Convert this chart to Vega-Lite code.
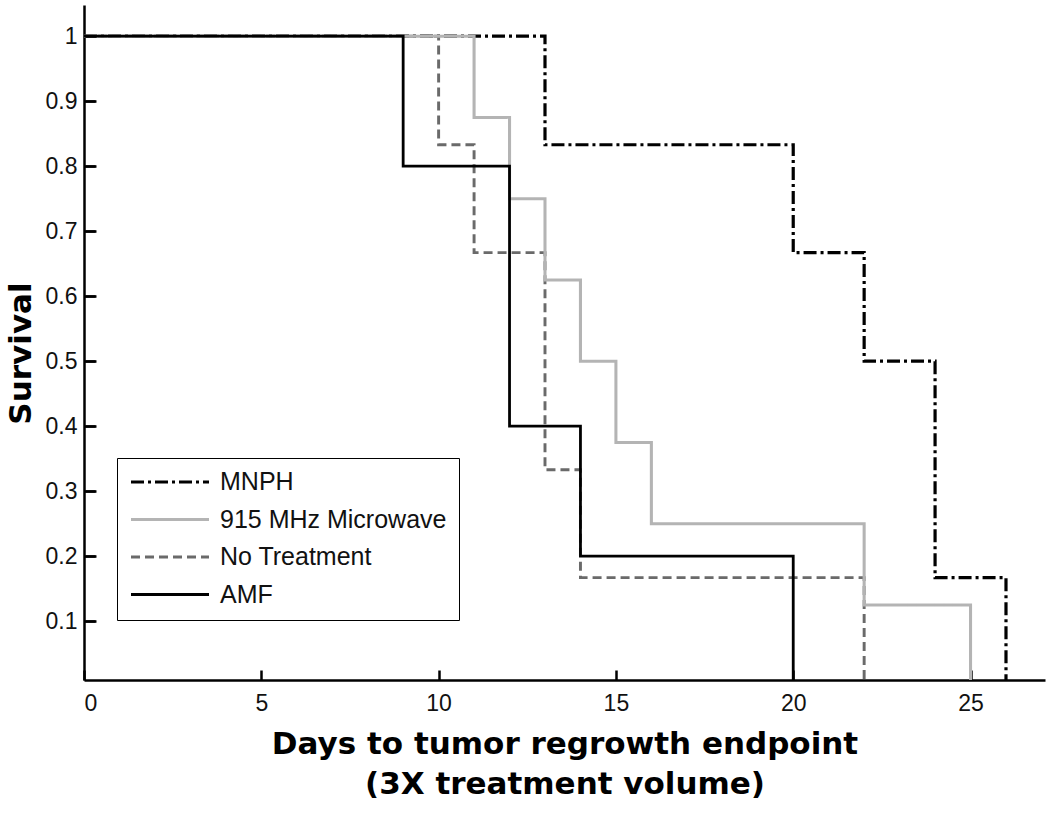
{
  "$schema": "https://vega.github.io/schema/vega-lite/v6.json",
  "width": 961,
  "height": 675,
  "autosize": {"type": "none"},
  "padding": {"left": 84, "top": 5, "right": 5, "bottom": 140},
  "background": "white",
  "config": {
    "view": {"stroke": null},
    "axis": {
      "domainColor": "black",
      "domainWidth": 2.5,
      "tickColor": "black",
      "tickWidth": 2.5,
      "grid": false,
      "labelFont": "Liberation Sans",
      "labelFontSize": 23,
      "labelColor": "#111111",
      "titleFont": "DejaVu Sans",
      "titleFontWeight": "bold",
      "titleFontSize": 31,
      "titleColor": "black"
    }
  },
  "data": {
    "values": [
      {"group": "MNPH", "day": 0, "surv": 1},
      {"group": "MNPH", "day": 13, "surv": 0.833},
      {"group": "MNPH", "day": 20, "surv": 0.667},
      {"group": "MNPH", "day": 22, "surv": 0.5},
      {"group": "MNPH", "day": 24, "surv": 0.167},
      {"group": "MNPH", "day": 26, "surv": 0},
      {"group": "No Treatment", "day": 0, "surv": 1},
      {"group": "No Treatment", "day": 10, "surv": 0.833},
      {"group": "No Treatment", "day": 11, "surv": 0.667},
      {"group": "No Treatment", "day": 13, "surv": 0.333},
      {"group": "No Treatment", "day": 14, "surv": 0.167},
      {"group": "No Treatment", "day": 22, "surv": 0},
      {"group": "915 MHz Microwave", "day": 0, "surv": 1},
      {"group": "915 MHz Microwave", "day": 11, "surv": 0.875},
      {"group": "915 MHz Microwave", "day": 12, "surv": 0.75},
      {"group": "915 MHz Microwave", "day": 13, "surv": 0.625},
      {"group": "915 MHz Microwave", "day": 14, "surv": 0.5},
      {"group": "915 MHz Microwave", "day": 15, "surv": 0.375},
      {"group": "915 MHz Microwave", "day": 16, "surv": 0.25},
      {"group": "915 MHz Microwave", "day": 22, "surv": 0.125},
      {"group": "915 MHz Microwave", "day": 25, "surv": 0},
      {"group": "AMF", "day": 0, "surv": 1},
      {"group": "AMF", "day": 9, "surv": 0.8},
      {"group": "AMF", "day": 12, "surv": 0.4},
      {"group": "AMF", "day": 14, "surv": 0.2},
      {"group": "AMF", "day": 20, "surv": 0}
    ]
  },
  "resolve": {"axis": {"x": "independent", "y": "independent"}},
  "layer": [
    {
      "mark": {"type": "line", "interpolate": "step-after", "clip": true},
      "encoding": {
        "x": {
          "field": "day",
          "type": "quantitative",
          "scale": {"domain": [0, 27.1], "nice": false, "zero": false},
          "axis": {
            "values": [0, 5, 10, 15, 20, 25],
            "ticks": false,
            "labelPadding": 12,
            "title": ["Days to tumor regrowth endpoint", "(3X treatment volume)"],
            "titleLineHeight": 40,
            "titleBaseline": "alphabetic",
            "titleY": 73,
            "titleAlign": "center"
          }
        },
        "y": {
          "field": "surv",
          "type": "quantitative",
          "scale": {"domain": [0.0095, 1.048], "nice": false, "zero": false},
          "axis": {
            "values": [0.1, 0.2, 0.3, 0.4, 0.5, 0.6, 0.7, 0.8, 0.9, 1],
            "ticks": false,
            "grid": true,
            "gridColor": "black",
            "gridWidth": 2.5,
            "gridOpacity": 1,
            "gridDash": [11, 5000],
            "format": "~g",
            "labelPadding": 7,
            "title": "Survival",
            "titleBaseline": "alphabetic",
            "titleX": -54,
            "titleY": 348,
            "titleAlign": "center",
            "titleAngle": 270
          }
        },
        "color": {
          "field": "group",
          "type": "nominal",
          "scale": {
            "domain": ["MNPH", "915 MHz Microwave", "No Treatment", "AMF"],
            "range": ["#000000", "#b4b4b4", "#6a6a6a", "#000000"]
          },
          "legend": {
            "title": null,
            "orient": "none",
            "legendX": 33,
            "legendY": 453,
            "symbolType": "stroke",
            "symbolSize": 6084,
            "symbolStrokeWidth": 3,
            "clipHeight": 24,
            "rowPadding": 12.5,
            "padding": 12,
            "symbolOffset": 0,
            "labelOffset": 9,
            "labelFont": "Liberation Sans",
            "labelFontSize": 25,
            "labelColor": "#111111",
            "strokeColor": "black",
            "fillColor": "white",
            "labelLimit": 400
          }
        },
        "strokeDash": {
          "field": "group",
          "type": "nominal",
          "scale": {
            "domain": ["MNPH", "915 MHz Microwave", "No Treatment", "AMF"],
            "range": [[13, 4, 3, 4], [1, 0], [9, 5], [1, 0]]
          }
        },
        "strokeWidth": {
          "field": "group",
          "type": "nominal",
          "scale": {
            "domain": ["MNPH", "915 MHz Microwave", "No Treatment", "AMF"],
            "range": [3.2, 2.8, 2.8, 3.4]
          }
        }
      }
    },
    {
      "mark": {"type": "point", "opacity": 0, "size": 0},
      "encoding": {
        "x": {
          "field": "day",
          "type": "quantitative",
          "axis": {
            "orient": "top",
            "offset": -675,
            "values": [0, 5, 10, 15, 20, 25],
            "domain": false,
            "labels": false,
            "ticks": true,
            "tickSize": 10,
            "title": null
          }
        },
        "y": {
          "field": "surv",
          "type": "quantitative",
          "axis": {
            "orient": "right",
            "offset": -960,
            "zindex": 2,
            "values": [0.1, 0.2, 0.3, 0.4, 0.5, 0.6, 0.7, 0.8, 0.9, 1],
            "domain": false,
            "labels": false,
            "ticks": true,
            "tickSize": 11,
            "title": null
          }
        }
      }
    }
  ]
}
